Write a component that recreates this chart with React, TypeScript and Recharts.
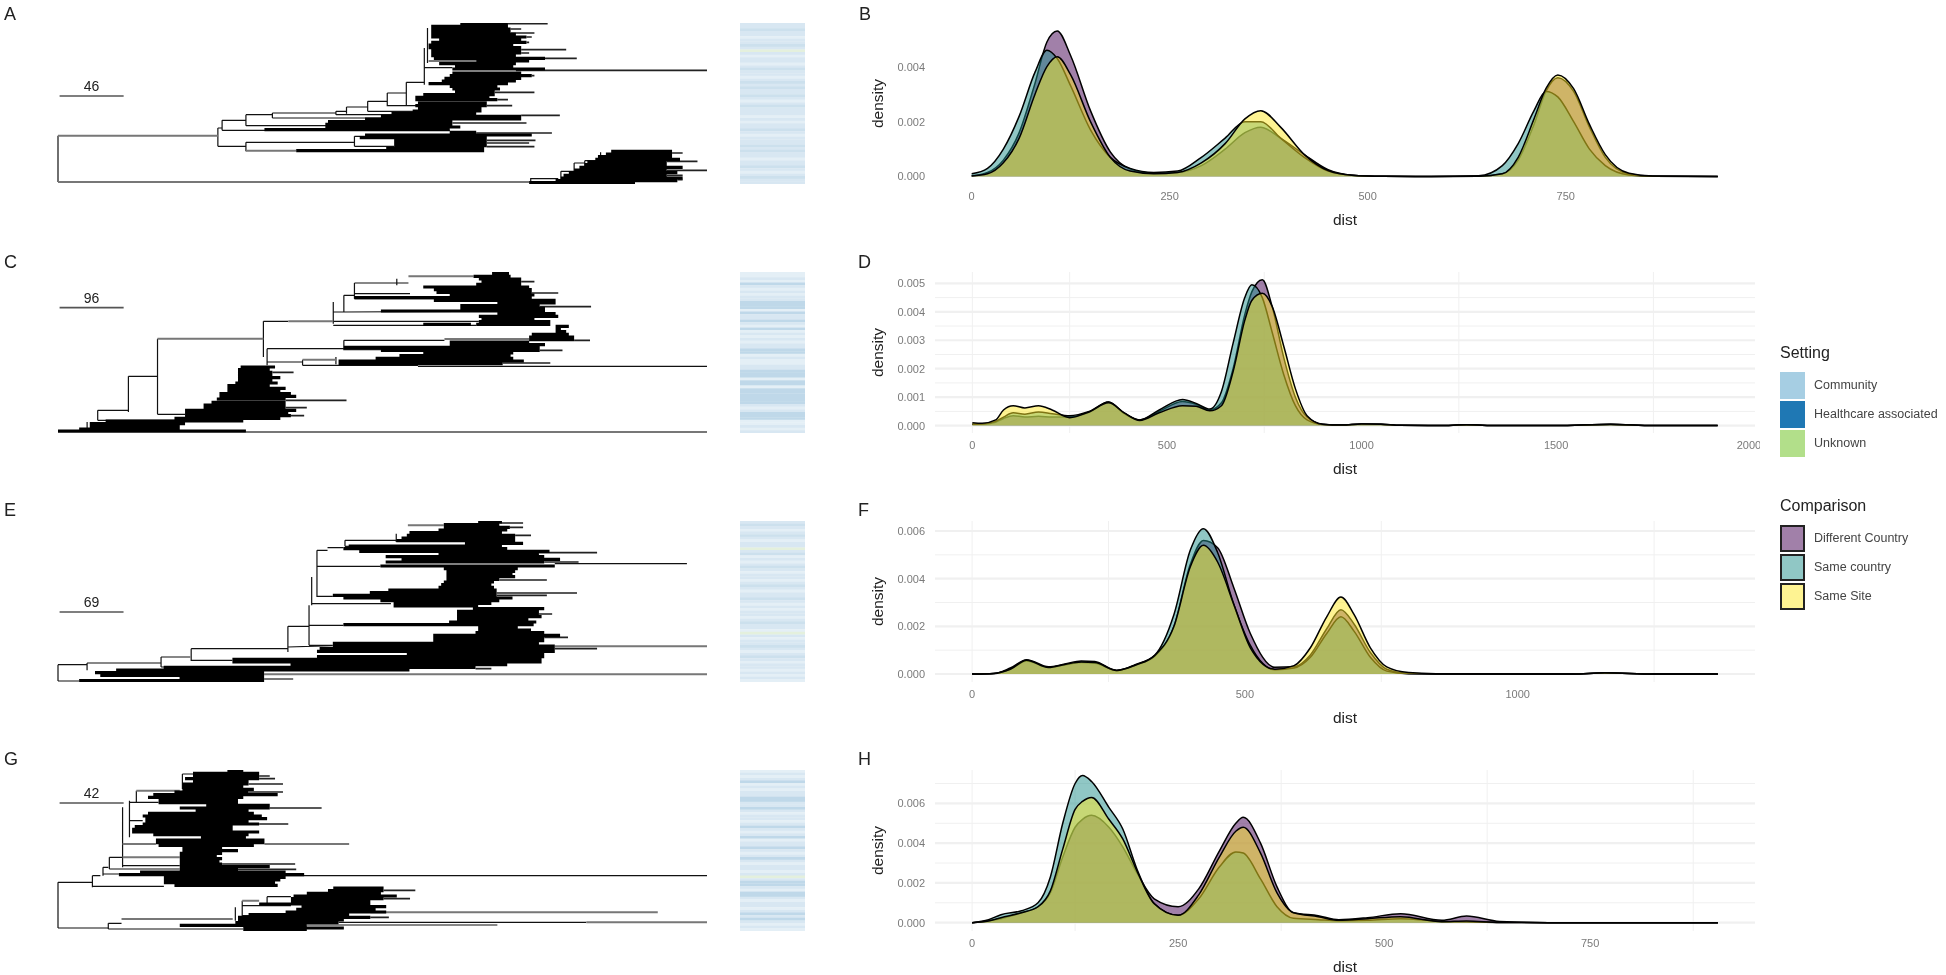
import React from 'react';
import {
  Area,
  AreaChart,
  Bar,
  BarChart,
  CartesianGrid,
  Cell,
  ComposedChart,
  Line,
  ReferenceLine,
  XAxis,
  YAxis,
} from 'recharts';

const FONT = '"Liberation Sans", Arial, sans-serif';

// density curves: dist, then one list per comparison group
const distB = [0, 20, 40, 60, 80, 95, 108, 125, 150, 175, 200, 230, 260, 290, 320, 345, 365, 390, 420, 450, 480, 520, 580, 640, 670, 690, 710, 725, 740, 760, 780, 800, 830, 860, 942];
const differentB = [.00003, .00015, .0006, .0016, .0034, .0049, .0053, .0044, .0024, .0009, .00028, .00012, .00015, .0004, .001, .0016, .0018, .0014, .0008, .00025, .00005, .00001, 0, .00001, .0001, .0006, .0019, .0031, .0036, .0031, .0018, .0007, .00009, .00001, 0];
const countryB = [.0001, .0003, .001, .0022, .0038, .0046, .0043, .0033, .0017, .0007, .0003, .00015, .0002, .0007, .0014, .002, .002, .0014, .0007, .0002, .00005, .00001, 0, .00003, .0004, .0012, .0024, .0031, .0029, .002, .001, .0004, .00006, .00001, 0];
const siteB = [.00002, .0001, .0005, .0014, .003, .004, .00436, .0037, .002, .0007, .0002, .0001, .00015, .0005, .0012, .0021, .0024, .0018, .0008, .00022, .00005, .00001, 0, .00001, .0001, .0007, .0021, .0032, .0037, .0032, .0019, .0008, .00012, .00002, 0];

const distD = [0, 25, 60, 80, 105, 135, 170, 205, 250, 300, 350, 390, 430, 480, 540, 575, 610, 640, 670, 700, 718, 745, 770, 800, 830, 860, 900, 950, 1000, 1050, 1100, 1200, 1270, 1350, 1500, 1640, 1750, 1915];
const differentD = [.00005, .00005, .00012, .00025, .00035, .0003, .00033, .0003, .0003, .00047, .00083, .00042, .0002, .0005, .00085, .00075, .00055, .0008, .002, .0039, .0047, .00513, .0042, .0024, .001, .0003, .00005, .00002, .00006, .00005, .00001, 0, .00003, 0, 0, .00005, 0, 0];
const countryD = [.00005, .00006, .00015, .0003, .00045, .0004, .00048, .00042, .00035, .0005, .00083, .00045, .0002, .00055, .00092, .00078, .00058, .0012, .0029, .0045, .00495, .0045, .0033, .0018, .0007, .0002, .00004, .00002, .00006, .00005, .00001, 0, .00003, 0, 0, .00005, 0, 0];
const siteD = [.0001, .00008, .0002, .00055, .0007, .00062, .0007, .00055, .00028, .00048, .0008, .00045, .00018, .00045, .0007, .00068, .00052, .0007, .0019, .0037, .0044, .00465, .0042, .0028, .0013, .00035, .00005, .00002, .00006, .00005, .00001, 0, .00003, 0, 0, .00004, 0, 0];

const distF = [0, 40, 70, 100, 140, 170, 200, 225, 265, 300, 335, 370, 400, 424, 450, 480, 510, 555, 590, 620, 650, 676, 700, 730, 760, 800, 850, 1000, 1100, 1160, 1250, 1367];
const differentF = [0, .00002, .0002, .00055, .00028, .00038, .00048, .00045, .00015, .00038, .00075, .002, .0046, .0056, .0053, .0036, .0017, .00028, .0003, .0008, .0019, .0027, .0021, .0009, .0002, .00002, 0, 0, 0, .00005, 0, 0];
const countryF = [0, .00002, .00025, .0006, .0003, .00042, .00055, .00052, .00015, .0004, .0008, .0025, .0052, .0061, .0051, .0029, .0012, .00018, .00025, .0007, .0017, .0024, .0018, .0007, .00012, .00001, 0, 0, 0, .00005, 0, 0];
const siteF = [0, .00002, .0002, .00058, .00027, .0004, .0005, .00048, .00015, .00038, .00078, .002, .0045, .0054, .0047, .0029, .0011, .0002, .00035, .0011, .0024, .00323, .0025, .0011, .0003, .00006, .00001, 0, 0, .00004, 0, 0];

const distH = [0, 20, 35, 60, 80, 95, 110, 125, 134, 145, 166, 183, 200, 221, 250, 275, 300, 320, 329, 350, 370, 390, 420, 445, 480, 520, 570, 600, 640, 700, 905];
const differentH = [0, .0001, .0002, .0005, .0008, .0015, .0033, .0048, .0052, .0054, .0048, .0038, .0025, .0012, .0008, .0017, .0036, .005, .0053, .004, .0018, .0005, .00035, .00015, .00025, .00045, .00012, .00033, .00006, 0, 0];
const countryH = [0, .00015, .0004, .0006, .001, .0023, .005, .007, .0074, .0071, .0058, .0047, .0027, .00096, .00037, .0012, .0028, .00356, .0035, .0022, .0008, .00022, .00015, .0001, .00012, .0002, .00006, .00004, .00001, 0, 0];
const siteH = [0, .00008, .00025, .0005, .0008, .0016, .0037, .0057, .0061, .0063, .0052, .0042, .0026, .00095, .00037, .0014, .0033, .0046, .0048, .0035, .0015, .0005, .0003, .00012, .0002, .0003, .00005, .00008, .00001, 0, 0];

// tree branches: [x0, y0, x1, y1]; tip rows: [y, x0, x1]
type Branch = number[];
type Row = number[];

const stemsA: Branch[] = [
  [110, 408, 110, 547], [412, 385, 412, 440], [412, 385, 420, 385], [420, 362, 420, 392], [420, 362, 465, 362], [465, 345, 465, 378], [465, 345, 515, 345], [465, 378, 620, 378],
  [515, 340, 515, 355], [515, 340, 635, 340], [515, 355, 760, 355], [635, 335, 635, 345], [635, 335, 655, 335], [635, 345, 800, 345], [655, 322, 655, 342], [655, 322, 695, 322],
  [695, 305, 695, 335], [695, 305, 732, 305], [695, 335, 800, 335], [732, 280, 732, 320], [732, 280, 768, 280], [732, 318, 800, 318], [768, 248, 768, 320], [768, 248, 802, 248], [768, 318, 790, 318],
  [802, 145, 802, 255], [808, 85, 808, 190], [420, 392, 850, 392], [412, 440, 465, 440], [465, 428, 465, 455], [465, 428, 670, 428], [670, 410, 670, 440], [670, 410, 700, 410], [670, 440, 745, 440],
  [802, 204, 855, 204], [1003, 535, 1003, 550], [1003, 550, 1110, 550], [1003, 537, 1055, 537], [1060, 515, 1060, 545], [1060, 515, 1085, 515], [1085, 490, 1085, 530], [1085, 490, 1105, 490], [1105, 483, 1105, 520], [1105, 483, 1135, 483], [1135, 458, 1135, 495],
];
const greysA: Branch[] = [[110, 408, 412, 408], [110, 547, 1000, 547], [465, 453, 560, 453], [810, 184, 900, 184]];
const tipsA: Row[] = [[72, 960, 1035], [88, 965, 985], [100, 965, 1010], [112, 995, 1005], [128, 995, 1000], [150, 985, 1070], [160, 985, 1000], [176, 985, 1090], [212, 975, 1336], [228, 1005, 1010], [278, 935, 1010], [300, 940, 960], [318, 920, 968], [347, 985, 1058], [370, 855, 995], [400, 900, 1043], [422, 920, 1012], [430, 920, 1000], [441, 920, 1010], [460, 1270, 1290], [485, 1260, 1318], [512, 1260, 1336], [527, 1260, 1290], [540, 1280, 1290]];
const cloudA: Row[] = [
  [72, 870, 960], [80, 815, 960], [88, 815, 965], [96, 815, 965], [104, 815, 975], [112, 815, 995], [120, 830, 985], [128, 815, 995], [136, 810, 970], [144, 810, 985], [152, 815, 985], [160, 815, 985], [168, 815, 975], [176, 820, 1030], [184, 900, 1000], [192, 830, 975], [200, 860, 970],
  [208, 855, 1030], [220, 855, 985], [228, 850, 1005], [236, 840, 985], [244, 835, 975], [252, 810, 960], [260, 850, 940], [268, 855, 945], [277, 860, 935], [285, 800, 935], [293, 785, 925], [300, 785, 940], [310, 790, 920], [318, 785, 920], [326, 790, 910], [334, 780, 910], [342, 740, 900],
  [350, 720, 985], [358, 690, 985], [366, 620, 855], [374, 615, 855], [382, 615, 870], [390, 500, 850], [398, 850, 900], [406, 690, 1005], [414, 680, 920], [422, 745, 920], [430, 745, 920], [438, 745, 920], [446, 730, 915], [453, 560, 915],
  [455, 1155, 1270], [463, 1145, 1270], [471, 1130, 1270], [479, 1125, 1285], [487, 1110, 1260], [495, 1105, 1260], [503, 1095, 1290], [511, 1085, 1260], [519, 1075, 1280], [527, 1065, 1260], [535, 1060, 1290], [543, 1050, 1280], [549, 1000, 1200],
];

const stemsC: Branch[] = [
  [243, 408, 243, 515], [243, 408, 298, 408], [298, 295, 298, 522], [298, 522, 350, 522], [498, 243, 498, 350], [498, 243, 545, 243], [630, 185, 630, 250], [630, 215, 650, 215], [650, 165, 650, 215], [650, 165, 670, 165],
  [670, 128, 670, 175], [670, 128, 750, 128], [750, 115, 750, 135], [750, 128, 772, 128], [670, 160, 775, 160], [670, 175, 900, 175], [650, 215, 1000, 212], [630, 243, 905, 243], [630, 255, 900, 255], [505, 325, 505, 375], [505, 325, 650, 325],
  [650, 300, 650, 330], [650, 300, 840, 300], [650, 328, 800, 328], [505, 365, 572, 365], [572, 358, 572, 375], [572, 375, 790, 375], [635, 350, 635, 372], [790, 378, 1336, 378], [185, 510, 185, 540], [185, 510, 243, 510], [185, 540, 350, 540], [165, 545, 165, 570], [110, 575, 465, 575],
];
const greysC: Branch[] = [[298, 295, 498, 295], [545, 243, 630, 243], [772, 108, 895, 108], [840, 296, 1000, 296], [572, 358, 635, 358], [465, 575, 1336, 575]];
const tipsC: Row[] = [[124, 985, 1010], [158, 1005, 1055], [199, 1020, 1117], [300, 1085, 1115], [330, 1020, 1063], [368, 950, 1040], [396, 515, 555], [480, 540, 655], [502, 540, 580], [526, 550, 575]];
const cloudC: Row[] = [
  [100, 930, 962], [108, 895, 965], [116, 905, 985], [124, 910, 985], [132, 900, 985], [140, 800, 1000], [148, 820, 1005], [156, 825, 1005], [164, 850, 1010], [172, 670, 1005], [180, 820, 1050], [188, 940, 1050], [196, 870, 1020], [204, 870, 1030], [212, 720, 1030], [220, 940, 1050], [228, 905, 1055], [236, 910, 1010], [244, 905, 1040], [252, 800, 890], [252, 900, 1040],
  [258, 1050, 1075], [266, 1050, 1060], [274, 1050, 1070], [282, 1005, 1075], [290, 1000, 1085], [298, 1000, 1085], [305, 850, 1000], [313, 850, 1030], [321, 650, 1020], [330, 720, 1020], [338, 800, 970], [346, 755, 965], [354, 710, 970], [362, 640, 990], [370, 640, 950],
  [380, 455, 520], [388, 450, 510], [396, 450, 515], [404, 450, 515], [412, 450, 530], [420, 450, 515], [428, 445, 525], [436, 430, 510], [444, 430, 540], [452, 430, 530], [460, 415, 550], [468, 415, 560], [476, 410, 540], [486, 400, 540], [494, 385, 540], [502, 385, 540], [510, 350, 560], [518, 350, 545], [526, 350, 550], [534, 330, 530],
  [542, 200, 460], [550, 170, 350], [558, 170, 340], [566, 150, 340], [572, 110, 465],
];

const stemsE: Branch[] = [
  [110, 523, 110, 572], [110, 523, 165, 523], [165, 518, 165, 540], [165, 518, 305, 518], [110, 572, 150, 572], [305, 500, 305, 530], [305, 500, 360, 500], [305, 530, 500, 530], [362, 475, 362, 512], [362, 475, 545, 475], [362, 510, 440, 510],
  [545, 408, 545, 485], [545, 408, 585, 408], [545, 470, 630, 466], [585, 345, 585, 465], [585, 405, 650, 405], [585, 465, 630, 465], [590, 260, 590, 345], [590, 340, 740, 340], [600, 180, 600, 320], [600, 228, 720, 228], [600, 318, 630, 318], [600, 180, 620, 180],
  [620, 172, 650, 172], [653, 150, 653, 168], [653, 150, 750, 150], [653, 168, 700, 168], [750, 130, 750, 155], [1050, 220, 1300, 220],
];
const greysE: Branch[] = [[772, 105, 840, 105], [1050, 468, 1338, 468], [500, 552, 1338, 552], [500, 566, 555, 566]];
const tipsE: Row[] = [[98, 945, 990], [111, 965, 990], [135, 975, 1005], [187, 1020, 1130], [215, 1030, 1095], [269, 945, 1035], [308, 940, 1092], [315, 940, 1035], [371, 1020, 1045], [441, 1030, 1075], [475, 1050, 1130], [535, 900, 930]];
const cloudE: Row[] = [
  [95, 905, 950], [103, 840, 945], [111, 840, 965], [119, 830, 960], [127, 775, 950], [135, 770, 975], [143, 760, 975], [151, 750, 975], [159, 880, 990], [167, 660, 950], [175, 650, 960], [183, 680, 1040], [191, 830, 1020], [199, 730, 1030], [207, 760, 1060], [215, 730, 1030], [227, 720, 1050], [235, 840, 980], [243, 845, 975], [251, 845, 970], [259, 845, 975], [267, 845, 945],
  [275, 840, 935], [283, 835, 930], [291, 830, 935], [299, 735, 940], [307, 700, 940], [315, 630, 940], [323, 650, 970], [331, 720, 945], [339, 745, 930], [347, 745, 905], [355, 895, 1030], [363, 865, 1020], [371, 865, 1020], [379, 865, 1025], [387, 865, 1000], [395, 850, 1015], [403, 650, 1010], [411, 905, 980], [419, 905, 1005], [427, 900, 1030], [435, 820, 1060], [443, 820, 1030],
  [451, 820, 1030], [459, 630, 1020], [467, 630, 1050], [475, 605, 1050], [483, 600, 1050], [491, 770, 1030], [499, 600, 1030], [507, 440, 1025], [515, 440, 1025], [523, 550, 960], [531, 310, 900], [539, 220, 775], [547, 180, 500], [555, 190, 500], [563, 340, 500], [571, 150, 500],
];

const stemsG: Branch[] = [
  [110, 425, 110, 562], [110, 425, 175, 425], [110, 562, 205, 562], [175, 405, 175, 440], [175, 405, 190, 405], [175, 437, 310, 437], [195, 380, 195, 405], [195, 380, 205, 380], [195, 400, 225, 400], [207, 350, 207, 385], [207, 350, 232, 350], [207, 385, 340, 385],
  [232, 200, 232, 380], [232, 375, 340, 375], [245, 180, 245, 290], [245, 240, 270, 240], [245, 185, 300, 185], [258, 150, 258, 185], [345, 100, 345, 145], [345, 100, 365, 100], [205, 548, 205, 565], [205, 548, 230, 548], [205, 565, 460, 565], [445, 500, 445, 540], [458, 480, 458, 530],
  [458, 495, 550, 495], [505, 468, 505, 490], [505, 468, 550, 468], [458, 525, 570, 525], [520, 405, 1336, 405], [640, 545, 1108, 545], [580, 553, 940, 553],
];
const greysG: Branch[] = [[232, 350, 340, 350], [232, 310, 295, 310], [258, 150, 340, 150], [230, 535, 440, 535], [458, 480, 490, 480], [700, 515, 1243, 515], [1108, 545, 1336, 545], [500, 310, 660, 310]];
const tipsG: Row[] = [[106, 490, 510], [114, 490, 520], [130, 470, 535], [154, 470, 535], [202, 510, 608], [250, 490, 545], [370, 420, 558], [386, 450, 560], [449, 725, 785], [474, 725, 775], [530, 700, 735]];
const cloudG: Row[] = [
  [90, 430, 460], [98, 365, 490], [106, 365, 490], [114, 350, 490], [122, 365, 470], [130, 345, 470], [138, 345, 460], [146, 345, 480], [154, 330, 470], [162, 290, 525], [170, 280, 460], [178, 300, 450], [186, 300, 450], [194, 390, 510], [202, 340, 510], [210, 370, 470], [218, 280, 480], [226, 270, 495], [234, 275, 505], [242, 275, 470], [250, 270, 490],
  [258, 255, 440], [266, 250, 440], [274, 250, 490], [282, 290, 470], [290, 380, 465], [298, 295, 500], [306, 295, 500], [314, 300, 480], [322, 345, 420], [330, 345, 450], [338, 340, 420], [346, 340, 410], [354, 340, 420], [362, 340, 415], [370, 340, 420], [378, 340, 510], [386, 340, 450], [394, 265, 540], [402, 225, 575], [410, 310, 540], [418, 310, 530], [426, 310, 520], [434, 330, 525],
  [442, 630, 725], [450, 620, 725], [458, 580, 720], [466, 555, 750], [474, 550, 725], [482, 550, 700], [490, 490, 700], [498, 570, 730], [506, 560, 710], [514, 540, 730], [522, 470, 660], [530, 450, 700], [538, 450, 650], [546, 445, 640], [554, 340, 580], [562, 460, 650], [569, 460, 580],
];

// one letter per tip: l, m, b, d are shades of the Setting blue, g is the Unknown green
const stripA = 'mmbmmlmmbmgmlmmlmbmmlmbmbmmbmlmbmmmlmlmmbmlmmmbmbmmlmmbmlmbmm';
const stripC = 'llmldmlmlmmdddldmmdmldlmlmlmmddlmllmmdddlddlddddddmlmdddllmlm';
const stripE = 'mbmlmbmlmmgmblmlmbmlmmlmbmlmmbmlmlmmlmbmmlgmlmmbmlmbmlmmlmlml';
const stripG = 'lmlmdlmlmmddmmdmlmmlmdmlmdlmmdmlmdmlmmlmgmddmlddmlmmlmdmdmlml';

const stripShades: Record<string, string> = { l: '#E4EFF6', m: '#D8E7F2', b: '#CCE0ED', d: '#BFD8E9', g: '#E4F0DD' };

const settingNames = ['Community', 'Healthcare associated', 'Unknown'];
const settingColours = ['#A6CEE3', '#1F78B4', '#B2DF8A'];
const comparisonNames = ['Different Country', 'Same country', 'Same Site'];
const comparisonColours = ['#440154', '#21908C', '#FDE725'];
const comparisonSwatches = ['#A180A9', '#90C7C5', '#FEF392'];

const pieces = (stems: Branch[]) => stems.flatMap(([x0, y0, x1, y1]) => [{ x: x0, y: y0 }, { x: x1, y: y1 }, { x: x1, y: null }]);
const rowPieces = (rows: Row[]) => rows.flatMap(([y, x0, x1]) => [{ x: x0, y }, { x: x1, y }, { x: x1, y: null }]);

const TreePanel = ({ top, yStart, stems, greys, tips, cloud, strip, scaleLabel, scaleY }: any) => (
  <>
    <div style={{ position: 'absolute', left: 0, top }}>
      <ComposedChart width={720} height={161} margin={{ top: 0, right: 13, bottom: 0, left: 58 }}>
        <XAxis type="number" dataKey="x" domain={[110, 1336]} hide />
        <YAxis type="number" domain={[yStart, yStart + 483]} reversed hide />
        <Line data={pieces(stems)} dataKey="y" stroke="#111" strokeWidth={1.2} dot={false} isAnimationActive={false} />
        <Line data={pieces(greys)} dataKey="y" stroke="#777" strokeWidth={2} dot={false} isAnimationActive={false} />
        <Line data={rowPieces(tips)} dataKey="y" stroke="#222" strokeWidth={1.6} dot={false} isAnimationActive={false} />
        <Line data={rowPieces(cloud)} dataKey="y" stroke="#000" strokeWidth={3.1} dot={false} isAnimationActive={false} />
        <ReferenceLine
          segment={[{ x: 113, y: scaleY }, { x: 234, y: scaleY }]}
          stroke="#555"
          strokeWidth={1.6}
          label={{ value: scaleLabel, position: 'top', fontSize: 14, fill: '#222', fontFamily: FONT }}
        />
      </ComposedChart>
    </div>
    <div style={{ position: 'absolute', left: 740, top }}>
      <BarChart width={65} height={161} layout="vertical" data={strip.split('').map((c: string, i: number) => ({ tip: i, share: 1, c }))} barCategoryGap={0} margin={{ top: 0, right: 0, bottom: 0, left: 0 }}>
        <XAxis type="number" domain={[0, 1]} hide />
        <YAxis type="category" dataKey="tip" hide />
        <Bar dataKey="share" isAnimationActive={false}>
          {strip.split('').map((c: string, i: number) => <Cell key={i} fill={stripShades[c]} />)}
        </Bar>
      </BarChart>
    </div>
  </>
);

const tickStyle = { fontSize: 11, fill: '#7a7a7a', fontFamily: FONT };
const titleStyle = { fontSize: 15.5, fill: '#222', fontFamily: FONT };

const DensityPanel = ({ top, dist, different, country, site, xDomain, yDomain, xTicks, yTicks, xMinor, yMinor, grid = true }: any) => {
  const table = dist.map((d: number, i: number) => ({ dist: d, different: different[i], country: country[i], site: site[i] }));
  return (
    <div style={{ position: 'absolute', left: 860, top: top - 5 }}>
      <AreaChart width={900} height={220} data={table} margin={{ top: 5, right: 5, bottom: 0, left: 0 }}>
        {grid && <CartesianGrid horizontal vertical verticalValues={[...xTicks, ...xMinor]} horizontalValues={yMinor} stroke="#F0F0F0" strokeWidth={1} />}
        {grid && <CartesianGrid vertical={false} horizontalValues={yTicks} stroke="#F0F0F0" strokeWidth={2.2} />}
        <XAxis
          type="number"
          dataKey="dist"
          domain={xDomain}
          ticks={xTicks}
          height={54}
          axisLine={false}
          tickLine={false}
          tickSize={0}
          tickMargin={8}
          tick={tickStyle}
          label={{ value: 'dist', position: 'insideBottom', offset: 13, style: titleStyle }}
        />
        <YAxis
          type="number"
          domain={yDomain}
          ticks={yTicks}
          width={75}
          axisLine={false}
          tickLine={false}
          tickSize={0}
          tickMargin={10}
          tick={tickStyle}
          tickFormatter={(v: number) => v.toFixed(3)}
          label={{ value: 'density', angle: -90, position: 'insideLeft', offset: 17, style: { ...titleStyle, textAnchor: 'middle' } }}
        />
        <Area type="monotone" dataKey="different" fill={comparisonColours[0]} fillOpacity={0.5} stroke="#000" strokeWidth={1.5} isAnimationActive={false} />
        <Area type="monotone" dataKey="country" fill={comparisonColours[1]} fillOpacity={0.5} stroke="#000" strokeWidth={1.5} isAnimationActive={false} />
        <Area type="monotone" dataKey="site" fill={comparisonColours[2]} fillOpacity={0.5} stroke="#000" strokeWidth={1.5} isAnimationActive={false} />
      </AreaChart>
    </div>
  );
};

const KeyBlock = ({ title, titleTop, names, colours, swatchTops, outlined }: any) => (
  <>
    <div style={{ position: 'absolute', left: 1780, top: titleTop, fontSize: 16, color: '#222', lineHeight: '18px' }}>{title}</div>
    {names.map((name: string, i: number) => (
      <React.Fragment key={name}>
        <div
          style={{
            position: 'absolute',
            left: 1780,
            top: swatchTops[i],
            width: 25,
            height: 27,
            boxSizing: 'border-box',
            background: colours[i],
            border: outlined ? '2px solid #222' : 'none',
          }}
        />
        <div style={{ position: 'absolute', left: 1814, top: swatchTops[i] + 6, fontSize: 12.5, color: '#444', lineHeight: '15px', whiteSpace: 'nowrap' }}>{name}</div>
      </React.Fragment>
    ))}
  </>
);

const Letter = ({ x, y, text }: any) => (
  <div style={{ position: 'absolute', left: x, top: y, fontSize: 18, color: '#222', lineHeight: '18px' }}>{text}</div>
);

export default function App() {
  return (
    <div style={{ position: 'absolute', left: 0, top: 0, width: 1946, height: 975, overflow: 'hidden', background: '#fff', fontFamily: FONT, filter: 'blur(0.7px)' }}>
      <Letter x={4} y={5} text="A" />
      <Letter x={859} y={5} text="B" />
      <Letter x={4} y={253} text="C" />
      <Letter x={858} y={253} text="D" />
      <Letter x={4} y={501} text="E" />
      <Letter x={858} y={501} text="F" />
      <Letter x={4} y={750} text="G" />
      <Letter x={858} y={750} text="H" />

      <TreePanel top={23} yStart={70} stems={stemsA} greys={greysA} tips={tipsA} cloud={cloudA} strip={stripA} scaleLabel="46" scaleY={289} />
      <TreePanel top={272} yStart={95} stems={stemsC} greys={greysC} tips={tipsC} cloud={cloudC} strip={stripC} scaleLabel="96" scaleY={202} />
      <TreePanel top={521} yStart={92} stems={stemsE} greys={greysE} tips={tipsE} cloud={cloudE} strip={stripE} scaleLabel="69" scaleY={365} />
      <TreePanel top={770} yStart={88} stems={stemsG} greys={greysG} tips={tipsG} cloud={cloudG} strip={stripG} scaleLabel="42" scaleY={187} />

      <DensityPanel top={23} dist={distB} different={differentB} country={countryB} site={siteB} xDomain={[-46.3, 989]} yDomain={[-0.00027, 0.00559]} xTicks={[0, 250, 500, 750]} yTicks={[0, 0.002, 0.004]} xMinor={[]} yMinor={[]} grid={false} />
      <DensityPanel top={272} dist={distD} different={differentD} country={countryD} site={siteD} xDomain={[-96, 2011]} yDomain={[-0.00026, 0.0054]} xTicks={[0, 500, 1000, 1500, 2000]} yTicks={[0, 0.001, 0.002, 0.003, 0.004, 0.005]} xMinor={[250, 750, 1250, 1750]} yMinor={[0.0005, 0.0015, 0.0025, 0.0035, 0.0045]} />
      <DensityPanel top={521} dist={distF} different={differentF} country={countryF} site={siteF} xDomain={[-68, 1435]} yDomain={[-0.000336, 0.00642]} xTicks={[0, 500, 1000]} yTicks={[0, 0.002, 0.004, 0.006]} xMinor={[250, 750, 1250]} yMinor={[0.001, 0.003, 0.005]} />
      <DensityPanel top={770} dist={distH} different={differentH} country={countryH} site={siteH} xDomain={[-45, 950]} yDomain={[-0.00042, 0.00768]} xTicks={[0, 250, 500, 750]} yTicks={[0, 0.002, 0.004, 0.006]} xMinor={[125, 375, 625, 875]} yMinor={[0.001, 0.003, 0.005, 0.007]} />

      <KeyBlock title="Setting" titleTop={344} names={settingNames} colours={settingColours} swatchTops={[372, 401, 430]} outlined={false} />
      <KeyBlock title="Comparison" titleTop={497} names={comparisonNames} colours={comparisonSwatches} swatchTops={[525, 554, 583]} outlined />
    </div>
  );
}
